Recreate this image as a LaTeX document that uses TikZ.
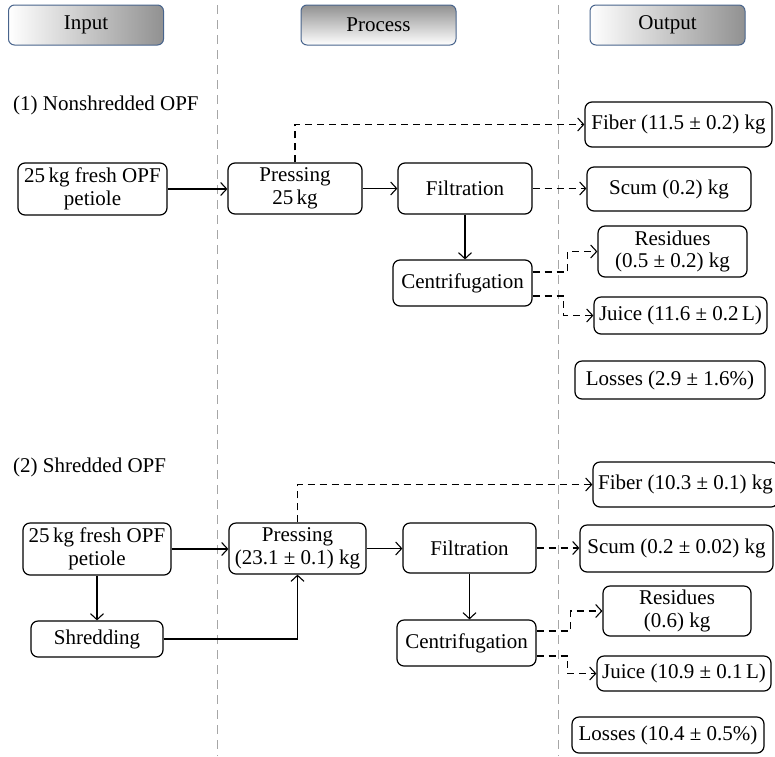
\documentclass[tikz,border=0pt]{standalone}
\usepackage{fontspec}
\setmainfont{Liberation Serif}
\usetikzlibrary{arrows.meta}
\definecolor{hdrblue}{RGB}{72,100,140}
\definecolor{hdrgray}{RGB}{145,145,145}
\begin{document}
\begin{tikzpicture}[x=1pt,y=-1pt,
  every node/.style={font=\fontsize{21}{22.5}\selectfont},
  box/.style={draw, line width=1.2pt, rounded corners=7pt, inner sep=0pt, align=center},
  hdr/.style={draw=hdrblue, line width=1pt, rounded corners=6pt, minimum width=155pt, minimum height=40pt, inner sep=0pt},
  flow/.style={line width=1.1pt, -{Straight Barb[length=6pt,width=13pt]}},
  dflow/.style={flow, dash pattern=on 7pt off 5pt},
  sep/.style={gray!70, line width=0.8pt, dash pattern=on 9pt off 6pt}]
\useasboundingbox (0,0) rectangle (775,756);
\clip (0,0) rectangle (775,756);
% separators
\draw[sep] (217,5) -- (217,756);
\draw[sep] (558,5) -- (558,756);
% headers
\node[hdr, left color=white, right color=hdrgray] (hin) at (86,25) {Input};
\node[hdr, top color=hdrgray, bottom color=white] (hpr) at (378.5,25) {Process};
\node[hdr, left color=white, right color=hdrgray] (hout) at (667.5,25) {Output};
% section labels
\node[anchor=west, inner sep=0pt] (lab1) at (13,105) {(1) Nonshredded OPF};
\node[anchor=west, inner sep=0pt] (lab2) at (13,467) {(2) Shredded OPF};
% row 1
\node[box, minimum width=149pt, minimum height=52pt] (in1) at (92.5,189) {25\,kg fresh OPF\\petiole};
\node[box, minimum width=134pt, minimum height=51pt] (pr1) at (295,188.5) {Pressing\\25\,kg};
\node[box, minimum width=134pt, minimum height=51pt] (fi1) at (465,188.5) {Filtration};
\node[box, minimum width=139pt, minimum height=46pt] (ce1) at (462.5,283) {Centrifugation};
\node[box, minimum width=187pt, minimum height=45pt] (fb1) at (678.5,124.5) {Fiber (11.5 ± 0.2) kg};
\node[box, minimum width=164pt, minimum height=44pt] (sc1) at (669,189) {Scum (0.2) kg};
\node[box, minimum width=149pt, minimum height=51pt] (re1) at (672.5,251.5) {Residues\\(0.5 ± 0.2) kg};
\node[box, minimum width=173pt, minimum height=37pt] (ju1) at (680.5,315.5) {Juice (11.6 ± 0.2\,L)};
\node[box, minimum width=190pt, minimum height=38pt] (lo1) at (670,380) {Losses (2.9 ± 1.6\%)};
\draw[flow] (in1.east) -- (in1.east -| pr1.west);
\draw[flow] (pr1.east) -- (pr1.east -| fi1.west);
\draw[flow] (fi1.south) -- (fi1.south |- ce1.north);
\draw[dflow] (pr1.north) |- (fb1.west);
\draw[dflow] (fi1.east) -- (fi1.east -| sc1.west);
\draw[dflow] ([yshift=11pt]ce1.east) -- ++(35,0) |- (re1.west);
\draw[dflow] ([yshift=-13pt]ce1.east) -- ++(31,0) |- (ju1.west);
% row 2
\node[box, minimum width=148pt, minimum height=52pt] (in2) at (97,549) {25\,kg fresh OPF\\petiole};
\node[box, minimum width=132pt, minimum height=36pt] (sh2) at (97,639) {Shredding};
\node[box, minimum width=137pt, minimum height=51pt] (pr2) at (297.5,548.5) {Pressing\\(23.1 ± 0.1) kg};
\node[box, minimum width=133pt, minimum height=50pt] (fi2) at (469.5,548) {Filtration};
\node[box, minimum width=139pt, minimum height=46pt] (ce2) at (466.5,643) {Centrifugation};
\node[box, minimum width=185pt, minimum height=45pt] (fb2) at (685.5,484.5) {Fiber (10.3 ± 0.1) kg};
\node[box, minimum width=193pt, minimum height=47pt] (sc2) at (676.5,548.5) {Scum (0.2 ± 0.02) kg};
\node[box, minimum width=148pt, minimum height=50pt] (re2) at (677,611) {Residues\\(0.6) kg};
\node[box, minimum width=174pt, minimum height=35pt] (ju2) at (684,673.5) {Juice (10.9 ± 0.1\,L)};
\node[box, minimum width=192pt, minimum height=36pt] (lo2) at (668,735) {Losses (10.4 ± 0.5\%)};
\draw[flow] (in2.east) -- (in2.east -| pr2.west);
\draw[flow] (pr2.east) -- (pr2.east -| fi2.west);
\draw[flow] (in2.south) -- (sh2.north);
\draw[flow] (sh2.east) -| (pr2.south);
\draw[flow] (fi2.south) -- (fi2.south |- ce2.north);
\draw[dflow] (pr2.north) |- (fb2.west);
\draw[dflow] (fi2.east) -- (fi2.east -| sc2.west);
\draw[dflow] ([yshift=12pt]ce2.east) -- ++(34,0) |- (re2.west);
\draw[dflow] ([yshift=-13pt]ce2.east) -- ++(31,0) |- (ju2.west);
\end{tikzpicture}
\end{document}
